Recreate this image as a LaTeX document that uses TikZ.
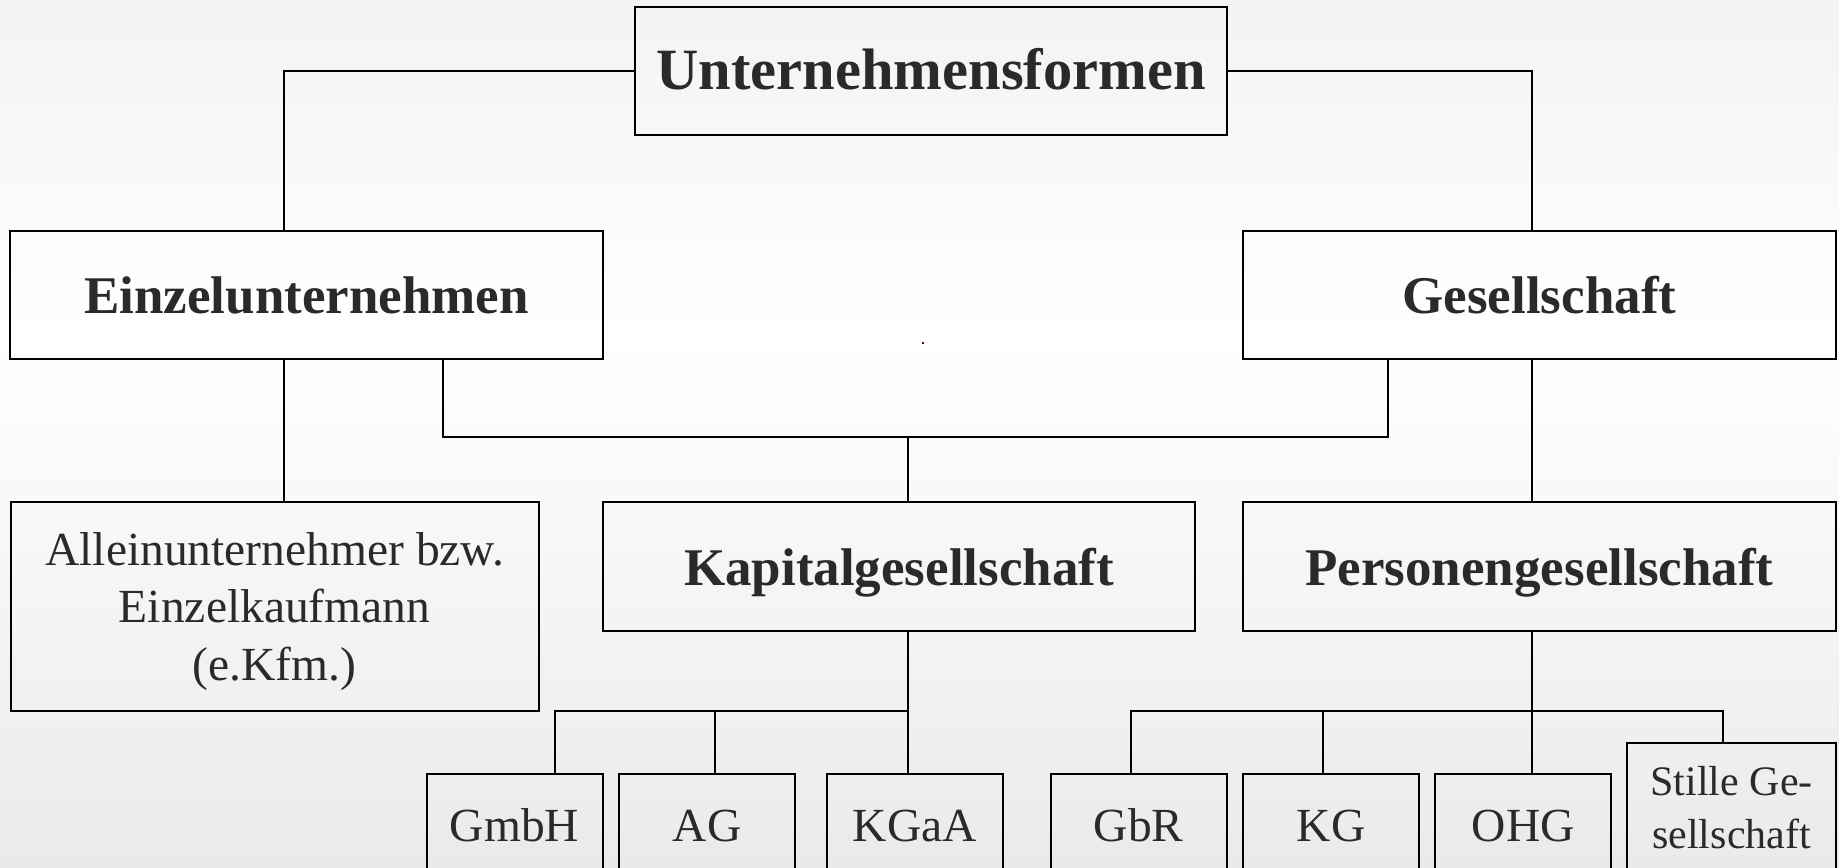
\documentclass[tikz,border=0pt]{standalone}
\usepackage{fontspec}
\setmainfont{Liberation Serif}
\definecolor{txt}{HTML}{2A2A2A}
\definecolor{bgtop}{HTML}{F3F3F3}
\definecolor{bgbot}{HTML}{EAEAEA}
\definecolor{dotc}{HTML}{3A0A2A}
\begin{document}
\begin{tikzpicture}[x=0.5pt,y=-0.5pt,
  box/.style={draw=black, line width=1pt, inner sep=0pt, outer sep=0pt, align=center, text=txt},
  bigbox/.style={box, minimum width=296.25pt, minimum height=64.1pt, text height=19pt, text depth=0pt, font=\fontsize{26.5}{32}\selectfont\bfseries},
  smallbox/.style={box, minimum width=88pt, minimum height=52.5pt, text height=14.2pt, text depth=0pt, font=\fontsize{23.75}{28.75}\selectfont},
  conn/.style={line width=1pt, draw=black}]
\useasboundingbox (0,0) rectangle (1839,867);
\clip (0,0) rectangle (1839,867);
\shade[top color=bgtop, bottom color=white] (0,0) rectangle (1839,340);
\shade[top color=white, bottom color=bgbot] (0,340) rectangle (1839,867);

% nodes
\node[box, minimum width=296.25pt, minimum height=64.15pt, text height=18.3pt, text depth=0pt, font=\fontsize{29.25}{35}\selectfont\bfseries] (top) at (931.2,70.9) {Unternehmensformen};
\node[bigbox] (einzel) at (306.6,294.7) {Einzelunternehmen};
\node[bigbox] (ges) at (1539.4,294.7) {Gesellschaft};
\node[box, minimum width=264pt, minimum height=104.2pt, text height=73.5pt, text depth=0pt, font=\fontsize{23.75}{28.6}\selectfont] (allein) at (274.6,606.5) {Alleinunternehmer bzw.\\Einzelkaufmann\\(e.Kfm.)};
\node[bigbox] (kapital) at (899,566.5) {Kapitalgesellschaft};
\node[bigbox] (personen) at (1539.4,566.5) {Personengesellschaft};

\node[smallbox] (gmbh) at (514.6,826.8) {GmbH};
\node[smallbox] (ag) at (707.1,826.8) {AG};
\node[smallbox] (kgaa) at (914.8,826.8) {KGaA};
\node[smallbox] (gbr) at (1138.6,826.8) {GbR};
\node[smallbox] (kg) at (1331.1,826.8) {KG};
\node[smallbox] (ohg) at (1523.3,826.8) {OHG};
\node[box, minimum width=104.4pt, minimum height=68.6pt, text height=36.7pt, text depth=0pt, font=\fontsize{21}{26.5}\selectfont] (stille) at (1731.6,811.3) {Stille Ge-\\sellschaft};

% junction coordinates
\coordinate (jE) at (283.5,0);
\coordinate (jG) at (1531.5,0);
\coordinate (jEs) at (443,0);
\coordinate (jGs) at (1387.7,0);
\coordinate (jK) at (907.9,0);
\coordinate (jGm) at (555,0);
\coordinate (jAG) at (714.8,0);
\coordinate (jGbR) at (1131.3,0);
\coordinate (jKG) at (1323.2,0);
\coordinate (jSt) at (1723.4,0);
\coordinate (y1) at (0,437.3);
\coordinate (y2) at (0,711);

% connectors
\draw[conn] (top.west) -| (jE |- einzel.north);
\draw[conn] (top.east) -| (jG |- ges.north);
\draw[conn] (jE |- einzel.south) -- (jE |- allein.north);
\draw[conn] (jEs |- einzel.south) -- (jEs |- y1) -- (jGs |- y1) -- (jGs |- ges.south);
\draw[conn] (jK |- y1) -- (jK |- kapital.north);
\draw[conn] (jG |- ges.south) -- (jG |- personen.north);
\draw[conn] (jK |- kapital.south) -- (jK |- kgaa.north);
\draw[conn] (jGm |- gmbh.north) -- (jGm |- y2) -- (jK |- y2);
\draw[conn] (jAG |- y2) -- (jAG |- ag.north);
\draw[conn] (jG |- personen.south) -- (jG |- ohg.north);
\draw[conn] (jGbR |- gbr.north) -- (jGbR |- y2) -- (jSt |- y2) -- (jSt |- stille.north);
\draw[conn] (jKG |- y2) -- (jKG |- kg.north);

% stray dot
\fill[dotc] (921.8,341.8) rectangle (923.6,343.6);
\end{tikzpicture}
\end{document}
